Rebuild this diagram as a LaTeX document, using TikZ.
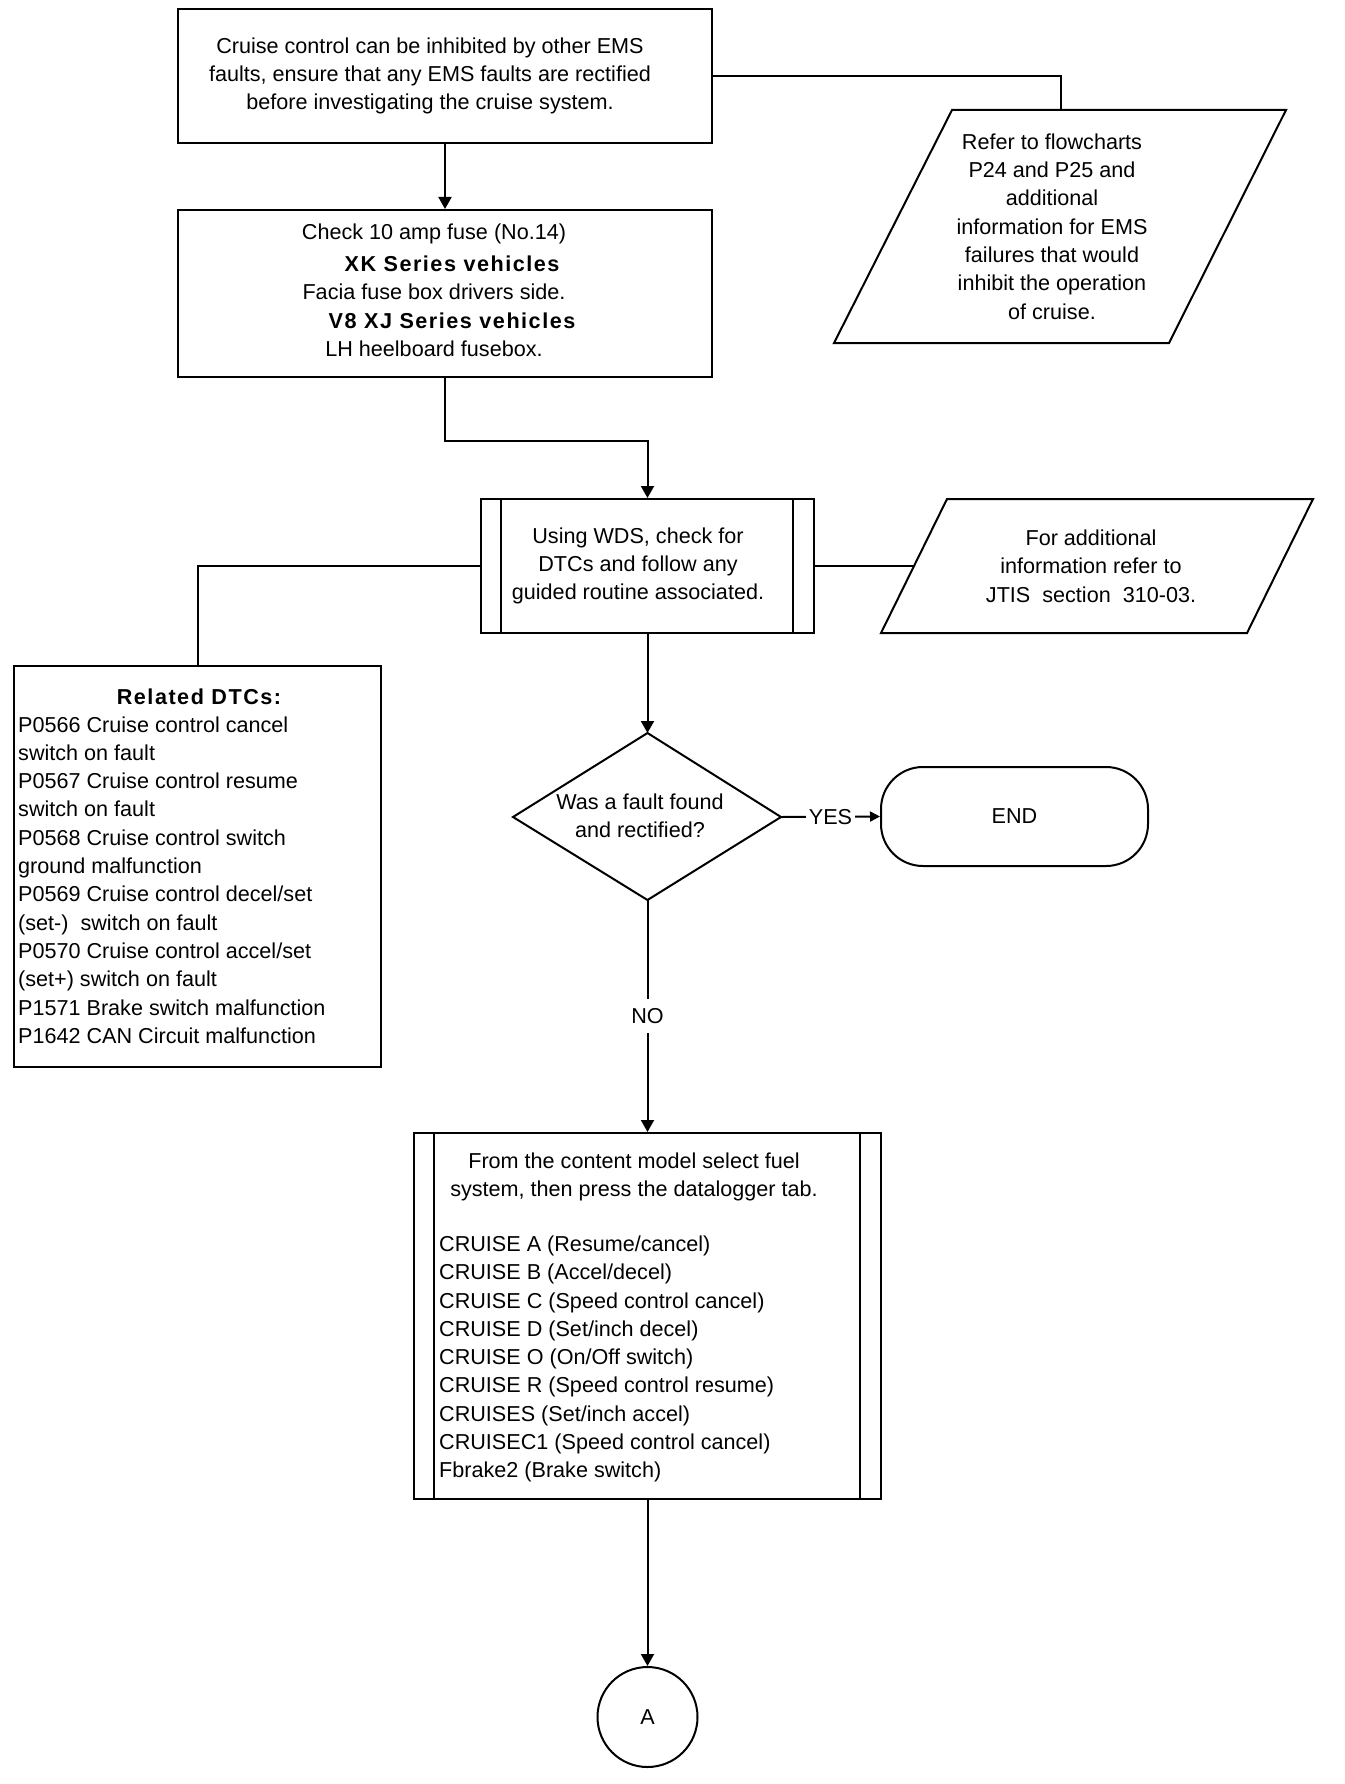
\documentclass[tikz,border=0pt]{standalone}
\usepackage{fontspec}
\setmainfont{Liberation Sans}
\newfontfamily\lsbold[LetterSpace=7]{Liberation Sans}
\usetikzlibrary{arrows.meta}
\begin{document}
\begin{tikzpicture}[x=1pt,y=-1pt,
  txt/.style={font=\fontsize{21.6pt}{28.3pt}\selectfont, inner sep=0pt, align=center},
  box/.style={draw, line width=2pt, rectangle, inner sep=0pt},
  shp/.style={draw, line width=2pt, line join=miter},
  con/.style={line width=2pt},
  arr/.style={con, -{Triangle[length=12pt,width=13pt]}},
  smallarr/.style={con, -{Triangle[length=10pt,width=10pt]}},
  lbl/.style={txt, fill=white, inner xsep=3pt, inner ysep=3pt},
]
\useasboundingbox (0,0) rectangle (1344,1784);
\fill[white] (0,0) rectangle (1344,1784);

% Box 1
\node[box, minimum width=534pt, minimum height=134pt] (b1) at (445,76) {};
\node[txt] (t1) at (430,76) {Cruise control can be inhibited by other EMS\\faults, ensure that any EMS faults are rectified\\before investigating the cruise system.};

% Box 2
\node[box, minimum width=534pt, minimum height=167pt] (b2) at (445,293.5) {};
\node[txt] (t2) at (443,290) {Check 10 amp fuse (No.14)\rule{18pt}{0pt}\\[4pt]
 \rule{18pt}{0pt}{\lsbold\bfseries XK Series vehicles}\\
 Facia fuse box drivers side.\rule{18pt}{0pt}\\
 \rule{18pt}{0pt}{\lsbold\bfseries V8 XJ Series vehicles}\\
 LH heelboard fusebox.\rule{18pt}{0pt}};

% Parallelogram 1
\coordinate (p1a) at (952,110);
\coordinate (p1b) at (1286,110);
\coordinate (p1c) at (1169,343);
\coordinate (p1d) at (834,343);
\coordinate (p1top) at (1061,110);
\draw[shp] (p1a) -- (p1b) -- (p1c) -- (p1d) -- cycle;
\node[txt] (t3) at (1052,226.5) {Refer to flowcharts\\P24 and P25 and\\additional\\information for EMS\\failures that would\\inhibit the operation\\of cruise.};

% Box 3 (predefined process)
\node[box, minimum width=333pt, minimum height=134pt] (b3) at (647.5,566) {};
\draw[con] ([xshift=21pt]b3.north west) -- ([xshift=21pt]b3.south west);
\draw[con] ([xshift=-22pt]b3.north east) -- ([xshift=-22pt]b3.south east);
\node[txt] (t4) at (638,566) {Using WDS, check for\\DTCs and follow any\\guided routine associated.};

% Parallelogram 2
\coordinate (p2a) at (947,499);
\coordinate (p2b) at (1313,499);
\coordinate (p2c) at (1247,633);
\coordinate (p2d) at (881,633);
\coordinate (p2in) at (914,566);
\draw[shp] (p2a) -- (p2b) -- (p2c) -- (p2d) -- cycle;
\node[txt] (t5) at (1091,566) {For additional\\information refer to\\JTIS\ \ section\ \ 310-03.};

% DTC box
\node[box, minimum width=367pt, minimum height=401pt] (dtc) at (197.5,866.5) {};
\node[txt] (t6h) at (199,697) {\lsbold\bfseries Related DTCs:};
\node[txt, align=left, anchor=west] (t6) at (18,880) {P0566 Cruise control cancel\\switch on fault\\P0567 Cruise control resume\\switch on fault\\P0568 Cruise control switch\\ground malfunction\\P0569 Cruise control decel/set\\(set-)\ \ switch on fault\\P0570 Cruise control accel/set\\(set+) switch on fault\\P1571 Brake switch malfunction\\P1642 CAN Circuit malfunction};

% Decision
\coordinate (dT) at (647.5,733);
\coordinate (dR) at (781,817);
\coordinate (dB) at (647.5,900);
\coordinate (dL) at (513,817);
\draw[shp] (dT) -- (dR) -- (dB) -- (dL) -- cycle;
\node[txt] (t7) at (640,816) {Was a fault found\\and rectified?};

% END
\node[txt, draw, line width=2pt, rounded corners=42pt, minimum width=267pt, minimum height=99pt] (end) at (1014.5,816.5) {END};

% Box 5
\node[box, minimum width=467pt, minimum height=366pt] (b5) at (647.5,1316) {};
\draw[con] ([xshift=21pt]b5.north west) -- ([xshift=21pt]b5.south west);
\draw[con] ([xshift=-22pt]b5.north east) -- ([xshift=-22pt]b5.south east);
\node[txt] (t8) at (634,1177) {From the content model select fuel\\system, then press the datalogger tab.};
\node[txt, align=left, anchor=west] (t9) at (439,1359) {CRUISE A (Resume/cancel)\\CRUISE B (Accel/decel)\\CRUISE C (Speed control cancel)\\CRUISE D (Set/inch decel)\\CRUISE O (On/Off switch)\\CRUISE R (Speed control resume)\\CRUISES (Set/inch accel)\\CRUISEC1 (Speed control cancel)\\Fbrake2 (Brake switch)};

% Connector A
\node[txt, draw, circle, line width=2pt, minimum size=100pt] (A) at (647.5,1717) {A};

% Connectors
\draw[arr] (b1.south) -- (b2.north);
\draw[con] (b1.east) -| (p1top);
\draw[arr] (b2.south) -- ++(0,63) -| (b3.north);
\draw[con] (b3.west) -| (dtc.north);
\draw[con] (b3.east) -- (p2in);
\draw[arr] (b3.south) -- (dT);
\draw[smallarr] (dR) -- node[lbl, inner ysep=1pt] (yes) {YES} (end.west);
\draw[arr] (dB) -- node[lbl, inner ysep=9pt] (no) {NO} (b5.north);
\draw[arr] (b5.south) -- (A.north);
\end{tikzpicture}
\end{document}
